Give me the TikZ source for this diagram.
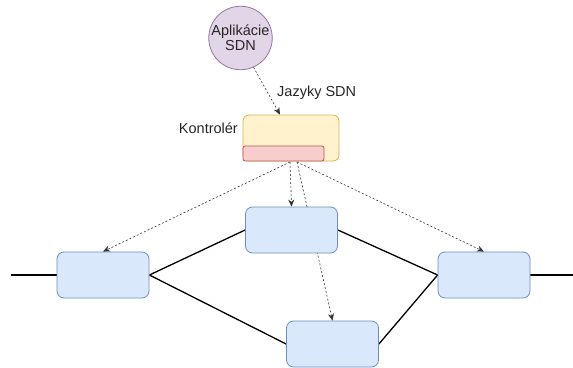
\documentclass[tikz,border=0pt]{standalone}
\usepackage{fontspec}
\setmainfont{Liberation Sans}
\usetikzlibrary{arrows.meta,calc}
\definecolor{swfill}{HTML}{DAE8FC}
\definecolor{swdraw}{HTML}{6C8EBF}
\definecolor{ctfill}{HTML}{FFF2CC}
\definecolor{ctdraw}{HTML}{D6B656}
\definecolor{rdfill}{HTML}{F8CECC}
\definecolor{rddraw}{HTML}{B85450}
\definecolor{apfill}{HTML}{E1D5E7}
\definecolor{apdraw}{HTML}{9673A6}
\begin{document}
\begin{tikzpicture}[x=1pt,y=-1pt,
  font=\fontsize{14.5}{15}\selectfont,
  switchbox/.style={draw=swdraw, fill=swfill, rounded corners=7pt, minimum width=92pt, minimum height=46pt, inner sep=0pt, line width=0.8pt},
  link/.style={line width=1.3pt, draw=black},
  ctrlarrow/.style={draw=black!80, line width=0.6pt, dash pattern=on 2pt off 2pt, -{Stealth[length=7pt,width=6pt]}},
  lbl/.style={inner sep=0pt, text=black!85}
]
\useasboundingbox (0,0) rectangle (573,367);

% controller arrows (drawn first, behind boxes)
\coordinate (c1) at (290,162);
\coordinate (c2) at (297,162);

\node[switchbox, draw=none, fill=none] (lb0) at (103,275) {};
\node[switchbox, draw=none, fill=none] (tb0) at (291.5,230) {};
\node[switchbox, draw=none, fill=none] (rb0) at (484,275) {};
\node[switchbox, draw=none, fill=none] (bb0) at (332.5,344) {};

\draw[ctrlarrow] (c1) -- (lb0.north);
\draw[ctrlarrow] (c2) -- (rb0.north);
\draw[ctrlarrow] (c2) -- (bb0.north);

\coordinate (lend) at (11,275);
\coordinate (rend) at (573,275);
\draw[link] (lend) -- (lb0.west);
\draw[link] (lb0.east) -- (tb0.west);
\draw[link] (lb0.east) -- (bb0.west);
\draw[link] (tb0.east) -- (rb0.west);
\draw[link] (bb0.east) -- (rb0.west);
\draw[link] (rb0.east) -- (rend);

\node[switchbox] (lb) at (103,275) {};
\node[switchbox] (tb) at (291.5,230) {};
\node[switchbox] (rb) at (484,275) {};
\node[switchbox] (bb) at (332.5,344) {};

\draw[ctrlarrow] (c1) -- (tb.north);

% controller
\node[draw=ctdraw, fill=ctfill, rounded corners=6pt, minimum width=96pt, minimum height=46pt, inner sep=0pt, line width=0.8pt] (ctrl) at (291,138) {};
\node[draw=rddraw, fill=rdfill, rounded corners=2pt, minimum width=81pt, minimum height=15pt, inner sep=0pt, line width=0.8pt] (red) at (283.5,153.5) {};
\node[lbl, anchor=base east] (klabel) at (238,133) {Kontrolér};

% application
\node[circle, draw=apdraw, fill=apfill, minimum size=63pt, inner sep=0pt, line width=0.8pt, align=center, text=black!85] (app) at (240.5,38) {Aplikácie\\SDN};
\coordinate (ctop) at ($(ctrl.north)+(-11,0)$);
\draw[ctrlarrow] (app.-66) -- (ctop);
\node[lbl, anchor=base west] (jlabel) at (277,96) {Jazyky SDN};
\end{tikzpicture}
\end{document}
